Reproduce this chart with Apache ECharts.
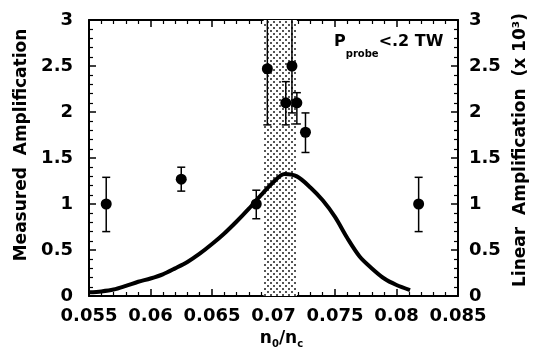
<!DOCTYPE html>
<html><head><meta charset="utf-8">
<script src="https://cdn.jsdelivr.net/npm/echarts@6/dist/echarts.min.js"></script>
<style>html,body{margin:0;padding:0;background:#fff}#c{width:540px;height:348px}</style>
</head><body><div id="c"></div>
<script>
// ---- data (x values are n0/nc) ----
const xTickLabels = ['0.055','0.06','0.065','0.07','0.075','0.08','0.085'];
const yTickLabels = ['0','0.5','1','1.5','2','2.5','3'];
const ptX  = [0.0564, 0.0625, 0.0686, 0.0695, 0.0710, 0.0715, 0.0719, 0.0726, 0.0818];
const ptY  = [1.00, 1.27, 1.00, 2.47, 2.10, 2.50, 2.10, 1.78, 1.00];
const errLo = [0.70, 1.14, 0.84, 1.86, 1.86, 1.99, 1.87, 1.56, 0.70];
const errHi = [1.29, 1.40, 1.15, 3.10, 2.33, 3.10, 2.21, 1.99, 1.29];
const curveX = [0.0550, 0.0560, 0.0570, 0.0580, 0.0590, 0.0600, 0.0610, 0.0620, 0.0630, 0.0640, 0.0650, 0.0660, 0.0670, 0.0680, 0.0690, 0.0700, 0.0709, 0.0719, 0.0730, 0.0740, 0.0750, 0.0760, 0.0770, 0.0780, 0.0790, 0.0800, 0.0811];
const curveY = [0.040, 0.050, 0.070, 0.110, 0.155, 0.190, 0.235, 0.300, 0.370, 0.460, 0.565, 0.680, 0.810, 0.950, 1.100, 1.240, 1.325, 1.300, 1.180, 1.040, 0.860, 0.630, 0.430, 0.300, 0.190, 0.120, 0.065];
const bandX = [0.0692, 0.0719];

// the x axis runs in thousandths of n0/nc to keep tick generation exact
const K = 1000;
const sx = v => v * K;

// ---- pattern ----
const cv = document.createElement('canvas'); cv.width = 6; cv.height = 6;
const cx = cv.getContext('2d');
cx.fillStyle = '#fff'; cx.fillRect(0,0,6,6);
cx.fillStyle = '#555'; cx.fillRect(0,0,2,2); cx.fillRect(3,3,2,2);

const FONT = 'DejaVu Sans';
const chart = echarts.init(document.getElementById('c'), null, {renderer:'canvas'});
const fmtX = v => { const i = Math.round((v - 55) / 5); return xTickLabels[i] !== undefined ? xTickLabels[i] : String(v / K); };
const fmtY = v => { const i = Math.round(v / 0.5); return yTickLabels[i] !== undefined ? yTickLabels[i] : String(v); };
function axisCommon(){ return {
  axisLine:{show:true, onZero:false, lineStyle:{color:'#000', width:2}},
  axisTick:{show:true, inside:true, length:7, lineStyle:{color:'#000', width:1.5}},
  minorTick:{show:true, splitNumber:5, length:4, lineStyle:{color:'#000', width:1.2}},
  splitLine:{show:false}, minorSplitLine:{show:false}
};}
chart.setOption({
  animation:false,
  grid:{left:89, right:82, top:20, bottom:52, outerBoundsMode:'none'},
  xAxis:[
    Object.assign(axisCommon(), {type:'value', position:'bottom', min:55, max:85, interval:5,
      axisLabel:{formatter:fmtX, color:'#000', fontFamily:FONT, fontWeight:'bold', fontSize:18, margin:11},
      name:'{n|n}{s|0}{n|/n}{s|c}', nameLocation:'middle', nameGap:23,
      nameTextStyle:{padding:[0,0,0,16], rich:{
        n:{fontFamily:FONT, fontWeight:'bold', fontSize:17, lineHeight:18, verticalAlign:'top', color:'#000'},
        s:{fontFamily:FONT, fontWeight:'bold', fontSize:10, lineHeight:12, padding:[10,0,0,0], verticalAlign:'top', color:'#000'}
      }}
    }),
    Object.assign(axisCommon(), {type:'value', position:'top', min:55, max:85, interval:5,
      axisLabel:{show:false}})
  ],
  yAxis:[
    Object.assign(axisCommon(), {type:'value', position:'left', min:0, max:3, interval:0.5,
      axisLabel:{formatter:fmtY, color:'#000', fontFamily:FONT, fontWeight:'bold', fontSize:18, margin:16},
      name:'Measured  Amplification', nameLocation:'middle', nameGap:56,
      nameTextStyle:{fontFamily:FONT, fontWeight:'bold', fontSize:17, color:'#000', padding:[0,0,0,26]}
    }),
    Object.assign(axisCommon(), {type:'value', position:'right', min:0, max:3, interval:0.5,
      axisLabel:{formatter:fmtY, color:'#000', fontFamily:FONT, fontWeight:'bold', fontSize:18, margin:11},
      name:'Linear  Amplification  (x 10³)', nameLocation:'middle', nameGap:54, nameRotate:90,
      nameTextStyle:{fontFamily:FONT, fontWeight:'bold', fontSize:17, color:'#000', padding:[0,0,0,16]}
    })
  ],
  graphic:[{
    type:'text', left:334, top:34, z:100,
    style:{text:'{p|P}{s|probe}{p|<.2 TW}', rich:{
      p:{fontFamily:FONT, fontWeight:'bold', fontSize:16, lineHeight:20, verticalAlign:'top', fill:'#000'},
      s:{fontFamily:FONT, fontWeight:'bold', fontSize:10, lineHeight:12, padding:[15,0,0,0], verticalAlign:'top', fill:'#000'}
    }}
  }],
  series:[
    {type:'line', data:[], z:1, silent:true,
      markArea:{silent:true, itemStyle:{color:{image:cv, repeat:'repeat'}, borderWidth:0},
        data:[[{xAxis:sx(bandX[0])},{xAxis:sx(bandX[1])}]]}},
    {type:'line', data:curveX.map((x,i)=>[sx(x),curveY[i]]), smooth:0.3, showSymbol:false, z:3,
      lineStyle:{color:'#000', width:4}},
    {type:'custom', z:4, data:ptX.map((x,i)=>[sx(x),errLo[i],errHi[i]]),
      renderItem:(params, api)=>{
        const x = api.value(0), lo = api.value(1), hi = api.value(2);
        const top = Math.min(hi, 3);
        const a = api.coord([x, lo]), b = api.coord([x, top]);
        const st = {stroke:'#000', lineWidth:1.5};
        const ch = [
          {type:'line', shape:{x1:a[0], y1:a[1], x2:b[0], y2:b[1]}, style:st},
          {type:'line', shape:{x1:a[0]-4, y1:a[1], x2:a[0]+4, y2:a[1]}, style:st}
        ];
        if (hi <= 3) ch.push({type:'line', shape:{x1:b[0]-4, y1:b[1], x2:b[0]+4, y2:b[1]}, style:st});
        return {type:'group', children:ch};
      }},
    {type:'scatter', z:5, data:ptX.map((x,i)=>[sx(x),ptY[i]]), symbolSize:11, itemStyle:{color:'#000', opacity:1}}
  ]
});
</script></body></html>
